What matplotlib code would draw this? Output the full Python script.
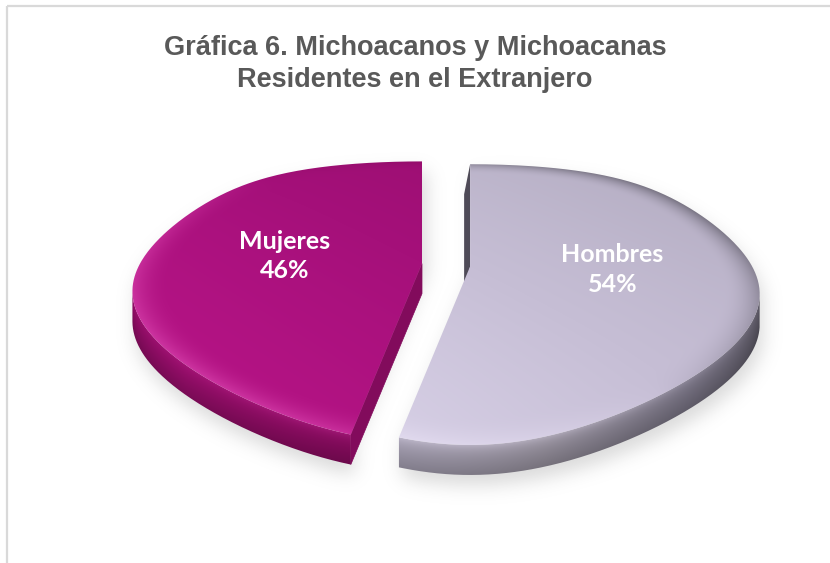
"""
Gráfica 6 - pastel 3D (Mujeres / Hombres) dibujado a mano con matplotlib
"""

import numpy as np
import matplotlib
import matplotlib.pyplot as plt
from matplotlib.patches import Polygon
from matplotlib.path import Path
from matplotlib.colors import to_rgb

# datos
categories = ['Mujeres', 'Hombres']
shares = [46, 54]
title = 'Gráfica 6. Michoacanos y Michoacanas\nResidentes en el Extranjero'

# colores por rebanada: base, claro, oscuro, brillo de bisel, sombra de bisel
top_colors = {
    'Mujeres': ['#A5107A', '#B81487', '#980E6F', '#CE36A2', '#8A0B62'],
    'Hombres': ['#C6BED5', '#DDD6EC', '#B4ADC2', '#E4DDF1', '#6E6A78'],
}
side_stops = {
    'Mujeres': [(180, '#8E0C64'), (220, '#9C0E6E'), (256, '#8A0B60')],
    'Hombres': [(255, '#A8A2B5'), (285, '#98929F'), (315, '#7A7586'),
                (340, '#5F5B68'), (360, '#55525E')],
}
cut_color = '#820B5C'
# desplazamiento fino de las etiquetas (px)
label_shift = {'Mujeres': (-8, 0), 'Hombres': (9, -5)}

# geometria (pixeles de la figura)
W, H = 830, 563
CX0, CY0 = 446, 265
RX, RY = 282, 130
PERSP = 0.272      # escorzo vertical
HPERSP = 0.25      # ensanchamiento horizontal hacia el frente
DEPTH = 30         # grosor del pastel
EXPLODE = 0.086
BEV = 0.12


def widen(v):
    return 1 - HPERSP * v * (1 - v ** 2)


def project(cx, cy, u, v):
    x = cx + RX * u * widen(v)
    y = cy - RY * v / (1 + PERSP * v)
    return x, y


def unproject(cx, cy, x, y):
    t = (y - cy) / (-RY)
    v = t / (1 - PERSP * t)
    u = (x - cx) / (RX * widen(np.clip(v, -1, 1)))
    return u, v


def rim(cx, cy, th_deg):
    th = np.radians(th_deg)
    return project(cx, cy, np.cos(th), np.sin(th))


def mix(a, b, t):
    return a + (b - a) * np.asarray(t)[..., None]


def rgb(h):
    return np.array(to_rgb(h))


def shaded(ax, poly_xy, shader, zorder):
    x0, y0 = np.floor(poly_xy.min(axis=0)) - 1
    x1, y1 = np.ceil(poly_xy.max(axis=0)) + 1
    xs = np.arange(x0, x1) + 0.5
    ys = np.arange(y0, y1) + 0.5
    X, Y = np.meshgrid(xs, ys)
    img = np.clip(shader(X, Y), 0, 1)
    im = ax.imshow(img, extent=(x0, x1, y1, y0), origin='upper',
                   interpolation='bilinear', zorder=zorder)
    im.set_clip_path(Path(poly_xy), transform=ax.transData)
    return im


fig = plt.figure(figsize=(W / 100, H / 100), dpi=100)
ax = fig.add_axes([0, 0, 1, 1])
ax.set_xlim(0, W)
ax.set_ylim(H, 0)
ax.axis('off')

# angulos de cada rebanada (inicio arriba, sentido antihorario)
total = sum(shares)
starts = 90 + 360 * np.concatenate([[0], np.cumsum(shares)[:-1]]) / total
ends = 90 + 360 * np.cumsum(shares) / total

slices = []
for name, a0, a1 in zip(categories, starts, ends):
    mid = np.radians((a0 + a1) / 2)
    cx, cy = project(CX0, CY0, EXPLODE * np.cos(mid), EXPLODE * np.sin(mid))
    th = np.linspace(a0, a1, 240)
    rx_, ry_ = rim(cx, cy, th)
    top = np.vstack([[cx, cy], np.column_stack([rx_, ry_])])

    # parte frontal visible del costado
    lo, hi = max(a0, 160), min(a1, 380)
    thf = np.linspace(lo, hi, 500)
    fx, fy = rim(cx, cy, thf)
    idx = np.arange(len(fx))
    keep = (idx <= fx.argmax()) & (idx >= fx.argmin())
    thf, fx, fy = thf[keep], fx[keep], fy[keep]
    side = np.vstack([np.column_stack([fx, fy]),
                      np.column_stack([fx[::-1], fy[::-1] + DEPTH])])
    slices.append(dict(name=name, a0=a0, a1=a1, cx=cx, cy=cy, top=top,
                       side=side, thf=thf, fx=fx, fy=fy, mid=mid))

# sombra difusa bajo el pastel
step = 2
gx = np.arange(0, W, step) + 1
gy = np.arange(0, H, step) + 1
GX, GY = np.meshgrid(gx, gy)
pts = np.column_stack([GX.ravel() - 3, GY.ravel() - 11])
mask = np.zeros(len(pts))
for s in slices:
    for poly in (s['top'], s['side']):
        mask = np.maximum(mask, Path(poly).contains_points(pts))
mask = mask.reshape(GX.shape)
k = np.arange(-15, 16)
kern = np.exp(-(k * step) ** 2 / (2 * 9.0 ** 2))
kern /= kern.sum()
blur = np.array([np.convolve(row, kern, 'same') for row in mask])
blur = np.array([np.convolve(col, kern, 'same') for col in blur.T]).T
shadow = np.zeros(blur.shape + (4,))
shadow[..., :3] = 0.55
shadow[..., 3] = 0.32 * blur
ax.imshow(shadow, extent=(0, W, H, 0), origin='upper',
          interpolation='bilinear', zorder=1)

for s in slices:
    name, cx, cy = s['name'], s['cx'], s['cy']
    base, light, dark, bhi, bsh = [rgb(c) for c in top_colors[name]]

    # cara de corte visible
    ex, ey = rim(cx, cy, s['a1'])
    if name == 'Mujeres':
        quad = np.array([[cx, cy], [ex, ey], [ex, ey + DEPTH], [cx, cy + DEPTH]])
        ax.add_patch(Polygon(quad, closed=True, fc=cut_color, ec=cut_color,
                             lw=0.5, zorder=2))
    else:
        quad = np.array([[ex, ey], [cx, cy], [cx - 6, cy + DEPTH],
                         [ex - 6, ey + DEPTH]])
        ax.add_patch(Polygon(quad, closed=True, fc='#4E4A57', ec='none',
                             zorder=2))

    # costado
    stops = side_stops[name]
    sth = np.array([p[0] for p in stops], float)
    scol = np.array([rgb(p[1]) for p in stops])

    def side_shader(X, Y, s=s, sth=sth, scol=scol, bhi=bhi):
        th = np.interp(X, s['fx'], s['thf']) % 360
        ytop = np.interp(X, s['fx'], s['fy'])
        f = np.clip((Y - ytop) / DEPTH, 0, 1)
        col = np.stack([np.interp(th, sth, scol[:, i]) for i in range(3)], -1)
        col = col * (1 - 0.22 * f)[..., None]
        front = np.clip(-np.sin(np.radians(th)), 0, 1) ** 2
        col = mix(col, bhi, 0.35 * np.exp(-f * 6) * front)
        return col

    shaded(ax, s['side'], side_shader, 3)

    # cara superior
    def top_shader(X, Y, cx=cx, cy=cy, base=base, light=light, dark=dark,
                   bhi=bhi, bsh=bsh):
        u, v = unproject(cx, cy, X, Y)
        r = np.hypot(u, v)
        th = np.arctan2(v, u)
        lin = np.clip(-0.6 * u - 0.55 * v, -1, 1)
        col = mix(base, light, np.clip(lin, 0, 1))
        col = mix(col, dark, np.clip(-lin, 0, 1))
        w = np.clip((r - (1 - BEV)) / BEV, 0, 1) ** 2
        nd = -0.75 * np.cos(th) - 0.6 * np.sin(th)
        col = mix(col, bhi, w * np.clip(nd, 0, 1))
        col = mix(col, bsh, w * np.clip(-nd, 0, 1) * 0.9)
        return col

    shaded(ax, s['top'], top_shader, 4)

    # etiqueta
    lr = 0.47
    lx, ly = project(cx, cy, lr * np.cos(s['mid']), lr * np.sin(s['mid']))
    dx, dy = label_shift[name]
    pct = shares[categories.index(name)]
    ax.text(lx + dx, ly + dy, f'{name}\n{pct}%', ha='center', va='center',
            color='white', fontsize=18, fontweight='bold', family='Lato',
            linespacing=1.35, zorder=6)

# titulo
ax.text(415, 64, title, ha='center', va='center', color='#595959',
        fontsize=19.5, fontweight='bold', family='Liberation Sans',
        linespacing=1.3, zorder=6)

# marco del grafico
ax.plot([7, W], [6, 6], color='#D9D9D9', lw=1.6, zorder=7,
        solid_capstyle='butt')
ax.plot([7, 7], [6, H], color='#D9D9D9', lw=1.6, zorder=7,
        solid_capstyle='butt')

ax.set_xlim(0, W)
ax.set_ylim(H, 0)
fig.savefig('out.png', dpi=100)
